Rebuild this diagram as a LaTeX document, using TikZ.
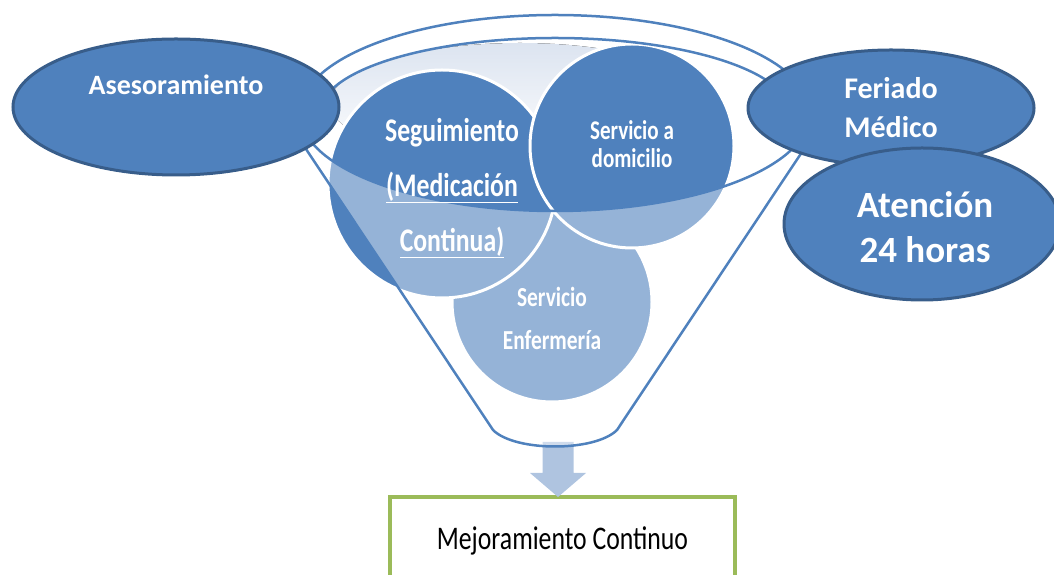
\documentclass[tikz,border=0pt]{standalone}
\usepackage{fontspec}
\setmainfont{Carlito}
\newfontfamily\narrowfont[FakeStretch=0.78]{Carlito}
\usetikzlibrary{shapes.geometric}
\definecolor{fillb}{HTML}{4F81BD}
\definecolor{edgeb}{HTML}{385D8A}
\definecolor{lightfill}{HTML}{DCE4F0}
\definecolor{arrowc}{HTML}{AFC4E0}
\definecolor{boxg}{HTML}{9BBB59}
\begin{document}
\begin{tikzpicture}[x=1pt,y=1pt,
  oval/.style={ellipse, draw=edgeb, fill=fillb, line width=3pt, text=white, align=center, inner sep=0pt},
  ball/.style={circle, fill=fillb, draw=white, line width=3pt, inner sep=0pt},
  funnelline/.style={draw=fillb, line width=2.5pt},
  lbl/.style={text=white, align=center, inner sep=0pt}
]
\useasboundingbox (0,0) rectangle (1054,575);
% result box and arrow
\node[draw=boxg, line width=4pt, minimum width=345pt, minimum height=88pt, inner sep=0pt,
      font=\narrowfont\fontsize{33}{36}\selectfont] (box) at (562.5,34) {Mejoramiento Continuo};
\coordinate (atip) at (558,78);
\fill[arrowc] (542.5,133) -- (573.5,133) -- (573.5,102) -- (586,102) -- (atip) -- (530,102) -- (542.5,102) -- cycle;
% interior of the funnel mouth
\fill[top color=lightfill, bottom color=white, middle color=lightfill!50] (520,472) ellipse [x radius=190pt, y radius=60pt];
% circles
\node[ball, minimum size=200pt] (enf) at (552,273) {};
\node[ball, minimum size=228pt] (seg) at (442,391) {};
\node[ball, minimum size=204pt] (dom) at (632,429) {};
% funnel body overlay
\fill[white, fill opacity=0.4] (300,462) arc[start angle=180,end angle=360,x radius=255pt,y radius=98pt]
  -- (810,435) -- (617,145) .. controls (595,123) and (515,123) .. (493,145) -- (300,435) -- cycle;
% funnel lines
\draw[funnelline] (810,462) arc[start angle=0,end angle=360,x radius=255pt,y radius=98pt];
\draw[funnelline] (790,462) arc[start angle=0,end angle=180,x radius=235pt,y radius=75pt];
\draw[funnelline] (300,435) -- (493,145) .. controls (515,123) and (595,123) .. (617,145) -- (810,435);
% circle texts
\node[lbl, font=\narrowfont\bfseries\fontsize{33}{55}\selectfont] (segt) at (452,387) {Seguimiento\\\underline{(Medicación}\\\underline{Continua)}};
\node[lbl, font=\narrowfont\bfseries\fontsize{27}{28}\selectfont] (domt) at (632,431) {Servicio a\\domicilio};
\node[lbl, font=\narrowfont\bfseries\fontsize{27.5}{43}\selectfont] (enft) at (552,257) {Servicio\\Enfermería};
% side ovals
\node[oval, minimum width=326pt, minimum height=136pt] (ases) at (176,468) {};
\node[lbl, font=\fontsize{28}{34}\selectfont\bfseries] (asest) at (176,490) {Asesoramiento};
\node[oval, minimum width=286pt, minimum height=116pt, font=\fontsize{30}{39}\selectfont\bfseries] (fer) at (891,467) {Feriado\\Médico};
\node[oval, minimum width=276pt, minimum height=152pt] (aten) at (922,351) {};
\node[lbl, font=\fontsize{37}{45}\selectfont\bfseries] (atent) at (925,348) {Atención\\24 horas};
\end{tikzpicture}
\end{document}
